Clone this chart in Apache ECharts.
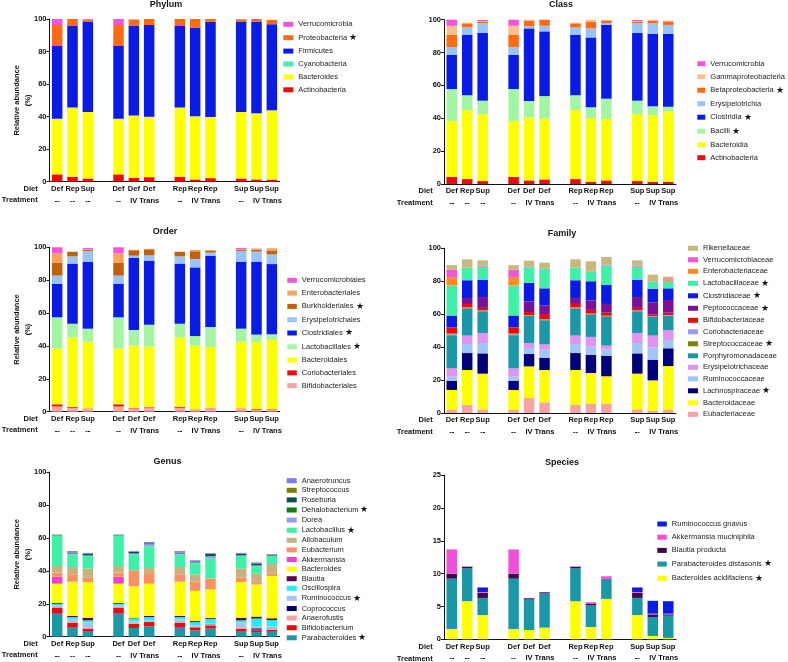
<!DOCTYPE html>
<html><head><meta charset="utf-8">
<script src="https://cdn.jsdelivr.net/npm/echarts@6/dist/echarts.min.js"></script>
<style>html,body{margin:0;padding:0;background:#fff}#c{width:788px;height:662px}</style>
</head><body><div id="c"></div>
<script>
const G = '-';
const diet = ['Def','Rep','Sup','','Def','Def','Def','','Rep','Rep','Rep','','Sup','Sup','Sup'];
const treatment = ['--','--','--','','--','IV','Trans','','--','IV','Trans','','--','IV','Trans'];
const yTicks100 = [0, 100, 20];
const yTicks25 = [0, 25, 5];

// ---- Phylum (bottom of stack first)
const phylumNames = ['Actinobacteria','Bacteroides','Cyanobacteria','Firmicutes','Proteobacteria','Verrucomicrobia'];
const phylumStarred = ['Proteobacteria'];
const phylumValues = [
  [4.5,3.1,2.0,G,4.5,2.4,2.8,G,3.1,1.4,2.2,G,2.0,1.4,1.3],
  [34.0,42.4,40.8,G,34.0,38.2,37.0,G,42.4,38.8,37.4,G,40.8,40.6,42.5],
  [0.2,0.1,0.1,G,0.2,0.1,0.1,G,0.1,0.1,0.1,G,0.1,0.1,0.1],
  [44.7,50.1,55.5,G,44.7,55.3,56.4,G,50.1,54.4,58.6,G,55.5,56.1,52.9],
  [12.9,4.3,1.2,G,12.9,3.6,3.7,G,4.3,5.3,1.8,G,1.2,1.8,2.6],
  [3.7,0,0.5,G,3.7,0.2,0,G,0,0,0,G,0.5,0.1,0.1]
];
const phylumColors = ['#ee0a0a','#ffff00','#3ff0a8','#0a1be6','#ff6a13','#f255d8'];

// ---- Class
const classNames = ['Actinobacteria','Bacteroidia','Bacilli','Clostridia','Erysipelotrichia','Betaproteobacteria','Gammaproteobacteria','Verrucomicrobia'];
const classStarred = ['Bacilli','Clostridia','Betaproteobacteria'];
const classValues = [
  [4.3,3.0,1.8,G,4.3,2.2,2.8,G,3.0,1.4,2.2,G,1.8,1.2,1.3],
  [34.0,42.0,40.8,G,34.0,38.4,37.0,G,42.0,38.8,37.4,G,40.8,40.8,42.7],
  [19.5,9.0,8.1,G,19.5,9.9,13.7,G,9.0,6.5,12.3,G,8.1,5.3,3.0],
  [20.7,36.9,41.2,G,20.7,44.2,39.4,G,36.9,42.5,44.9,G,41.2,44.2,44.3],
  [4.7,4.4,5.9,G,4.7,1.4,3.4,G,4.4,5.5,1.2,G,5.9,6.3,5.5],
  [7.5,2.5,1.0,G,7.5,3.3,3.7,G,2.5,3.9,1.6,G,1.0,1.6,2.2],
  [5.6,0.4,0.3,G,5.6,0.3,0.2,G,0.4,1.4,0.2,G,0.3,0.3,0.3],
  [3.7,0,0.7,G,3.7,0.2,0,G,0,0,0,G,0.7,0.2,0.1]
];
const classColors = ['#ee0a0a','#ffff00','#a2f5a2','#0a1be6','#98c4f8','#ff6a13','#fcc08a','#f255d8'];

// ---- Order
const orderNames = ['Bifidobacteriales','Coriobacteriales','Bacteroidales','Lactobacillales','Clostridiales','Erysipelotrichales','Burkholderiales','Enterobacteriales','Verrucomicrobiales'];
const orderStarred = ['Lactobacillales','Clostridiales','Burkholderiales'];
const orderValues = [
  [3.2,2.4,1.8,G,3.2,2.0,2.6,G,2.4,1.2,2.2,G,1.8,1.2,1.2],
  [1.3,0.6,0.2,G,1.3,0.4,0.4,G,0.6,0.2,0.2,G,0.2,0.4,0.3],
  [34.0,42.2,40.6,G,34.0,37.8,36.6,G,42.2,38.8,37.0,G,40.6,40.8,42.1],
  [18.9,8.3,7.9,G,18.9,9.5,13.3,G,8.3,5.8,12.1,G,7.9,4.5,3.5],
  [20.5,36.6,40.8,G,20.5,43.8,39.0,G,36.6,41.8,43.4,G,40.8,44.4,42.7],
  [4.9,4.4,6.5,G,4.9,1.4,3.2,G,4.4,5.1,1.9,G,6.5,6.1,5.9],
  [7.7,2.7,0.8,G,7.7,3.3,3.7,G,2.7,4.7,1.2,G,0.8,1.0,2.4],
  [5.8,0.2,0.4,G,5.8,0.3,0.3,G,0.2,0.8,0.4,G,0.4,0.6,1.3],
  [3.7,0,0.6,G,3.7,0,0,G,0,0,0,G,0.6,0.2,0]
];
const orderColors = ['#f7a3a3','#ee0a0a','#ffff00','#a2f5a2','#0a1be6','#98c4f8','#c0610f','#fca45a','#f255d8'];

// ---- Family
const familyNames = ['Eubacteriaceae','Bacteroidaceae','Lachnospiraceae','Ruminococcaceae','Erysipelotrichaceae','Porphyromonadaceae','Streptococcaceae','Coriobacteriaceae','Bifidobacteriaceae','Peptococcaceae','Clostridiaceae','Lactobacillaceae','Enterobacteriaceae','Verrucomicrobiaceae','Rikenellaceae'];
const familyStarred = ['Lachnospiraceae','Streptococcaceae','Peptococcaceae','Clostridiaceae','Lactobacillaceae'];
const familyValues = [
  [1.8,4.9,2.2,G,1.8,9.1,6.5,G,4.9,5.5,5.5,G,2.2,1.4,1.8],
  [12.2,21.2,21.7,G,12.2,19.2,19.6,G,21.2,18.8,16.8,G,21.7,18.4,26.7],
  [5.6,10.3,12.3,G,5.6,7.5,7.3,G,10.3,11.1,12.5,G,12.3,12.6,10.8],
  [2.5,5.5,6.3,G,2.5,3.7,5.1,G,5.5,4.9,3.7,G,6.3,7.3,5.0],
  [5.0,5.1,6.1,G,5.0,3.0,3.2,G,5.1,5.9,2.4,G,6.1,7.3,6.1],
  [20.1,16.4,13.1,G,20.1,16.4,14.6,G,16.4,13.5,17.6,G,13.1,11.3,8.7],
  [0.5,0.4,0.3,G,0.5,0.4,0.4,G,0.4,0.4,0.4,G,0.3,0.3,0.2],
  [0.5,0.3,0.3,G,0.5,0.2,0.2,G,0.3,0.3,0.2,G,0.3,0.2,0.2],
  [3.5,2.1,1.5,G,3.5,1.8,3.2,G,2.1,2.2,1.8,G,1.5,0.9,1.4],
  [0.3,3.6,6.6,G,0.3,6.5,5.3,G,3.6,5.8,5.3,G,6.6,7.5,7.7],
  [7.2,10.8,10.6,G,7.2,11.3,10.3,G,10.8,11.6,11.5,G,10.6,8.3,7.1],
  [18.2,7.7,7.7,G,18.2,9.4,11.7,G,7.7,6.0,11.8,G,7.7,4.1,4.0],
  [5.1,0.2,0.2,G,5.1,0.1,0,G,0.2,0.6,0.2,G,0.2,0,0.8],
  [4.4,0,0.6,G,4.4,0.3,0.2,G,0,0,0.4,G,0.6,0.2,0.7],
  [2.9,4.8,3.2,G,2.9,3.6,3.7,G,4.8,5.5,4.6,G,3.2,4.2,1.6]
];
const familyColors = ['#f7a3a3','#ffff00','#00007a','#a0c6f6','#e093f2','#1b98a8','#808010','#9a9af2','#ee0a0a','#7a1296','#0a1be6','#3ff0a8','#ff8a1f','#f255d8','#c9b77e'];

// ---- Genus
const genusNames = ['Parabacteroides','Bifidobacterium','Anaerofustis','Coprococcus','Ruminococcus','Oscillospira','Blautia','Bacteroides','Akkermansia','Eubacterium','Allobaculum','Lactobacillus','Dorea','Dehalobacterium','Roseburia','Streptococcus','Anaerotruncus'];
const genusStarred = ['Parabacteroides','Ruminococcus','Lactobacillus','Dehalobacterium'];
const genusValues = [
  [14.4,5.9,3.0,G,14.4,5.3,6.3,G,5.9,3.8,4.9,G,3.0,2.8,3.0],
  [3.2,2.6,1.9,G,3.2,2.6,2.6,G,2.6,1.9,2.0,G,1.9,1.2,1.2],
  [0.4,0.4,0.6,G,0.4,0.4,0.3,G,0.4,0.2,0.4,G,0.6,0.3,0.6],
  [0.2,0.2,0.1,G,0.2,0.1,0.1,G,0.2,0.1,0.2,G,0.1,0.8,0.2],
  [0.8,1.4,3.0,G,0.8,0.8,0.6,G,1.4,0.9,0.4,G,3.0,1.4,1.2],
  [0.8,1.4,1.3,G,0.8,1.9,2.0,G,1.4,2.0,2.8,G,1.3,4.5,3.9],
  [0.6,0.7,1.6,G,0.6,0.4,0.7,G,0.7,0.6,0.6,G,1.6,1.2,1.1],
  [11.8,20.8,21.7,G,11.8,19.1,19.6,G,20.8,18.4,17.4,G,21.7,19.5,25.7],
  [4.2,0.2,0,G,4.2,0,0,G,0.2,0,0,G,0,0,0],
  [2.5,4.3,2.6,G,2.5,9.5,6.5,G,4.3,5.5,6.5,G,2.6,1.4,1.6],
  [4.0,4.4,5.5,G,4.0,0.4,3.0,G,4.4,4.3,0.3,G,5.5,5.1,5.6],
  [18.4,7.7,7.7,G,18.4,9.5,13.2,G,7.7,6.8,11.9,G,7.7,4.7,4.9],
  [0.2,0.4,0.3,G,0.2,0.4,1.2,G,0.4,0.5,1.4,G,0.3,0.3,0.2],
  [0.1,0.1,0.1,G,0.1,0.1,0.1,G,0.1,0.1,0.1,G,0.1,0.1,0.1],
  [0.3,0.5,0.8,G,0.3,1.0,0.5,G,0.5,0.6,1.6,G,0.8,1.2,0.6],
  [0.1,0,0.1,G,0.1,0.1,0.1,G,0,0.1,0,G,0.1,0.1,0],
  [0,1.0,0.6,G,0,0.5,0.7,G,1.0,0.6,0.1,G,0.6,0.5,0.1]
];
const genusColors = ['#1b98a8','#ee0a0a','#f7a3a3','#00007a','#a0c6f6','#20f2f2','#5a0848','#ffff00','#f040d0','#fb9060','#c9b07e','#3ff0a8','#9a9af2','#0a7d0a','#0b5055','#7d7d10','#7c7cf0'];

// ---- Species
const speciesNames = ['Bacteroides acidifaciens','Parabacteroides distasonis','Blautia producta','Akkermansia muciniphila','Ruminococcus gnavus'];
const speciesStarred = ['Bacteroides acidifaciens','Parabacteroides distasonis'];
const speciesValues = [
  [1.57,5.8,3.7,G,1.57,1.41,1.77,G,5.8,1.87,6.16,G,3.7,0.5,0.2],
  [7.67,5.0,2.6,G,7.67,4.65,5.23,G,5.0,3.28,2.98,G,2.6,2.88,3.4],
  [0.76,0.26,0.77,G,0.76,0.2,0.17,G,0.26,0.3,0.06,G,0.77,0.41,0.2],
  [3.7,0.04,0.13,G,3.7,0.04,0.03,G,0.04,0.2,0.4,G,0.13,0.11,0.1],
  [0,0,0.7,G,0,0,0,G,0,0,0,G,0.7,1.96,1.9]
];
const speciesColors = ['#ffff00','#1b98a8','#3c0a48','#f050d8','#0a1be6'];

// ================= build =================
const FONT = '"Liberation Sans", Arial, Helvetica, sans-serif';
const grids = [], xAxes = [], yAxes = [], series = [], legends = [], graphics = [];

function addPanel(p) {
  const gi = grids.length;
  grids.push({left: p.left, top: p.top, width: p.width, height: p.height});
  xAxes.push({
    type: 'category', gridIndex: gi, data: diet.map((d, i) => 'c' + i),
    axisTick: {show: false},
    axisLine: {lineStyle: {color: '#111', width: 1}},
    axisLabel: {
      interval: 0, margin: 1.5,
      formatter: (v, i) => diet[i] ? '{d|' + diet[i] + '}\n{t|' + treatment[i] + '}' : '',
      rich: {
        d: {fontSize: 7.5, fontWeight: 'bold', fontFamily: FONT, color: '#111', lineHeight: 11.5},
        t: {fontSize: 7.5, fontWeight: 'bold', fontFamily: FONT, color: '#111', lineHeight: 11.5}
      }
    }
  });
  yAxes.push({
    type: 'value', gridIndex: gi, min: p.ticks[0], max: p.ticks[1], interval: p.ticks[2],
    splitLine: {show: false},
    axisLine: {show: true, lineStyle: {color: '#111', width: 1}},
    axisTick: {show: true, length: 3, lineStyle: {color: '#111', width: 1}},
    axisLabel: {fontSize: 7.5, fontWeight: 'bold', fontFamily: FONT, color: '#111', margin: 3}
  });
  p.names.forEach((n, k) => series.push({
    type: 'bar', name: n, xAxisIndex: gi, yAxisIndex: gi, stack: 'st' + gi,
    barWidth: 10.5, data: p.values[k], itemStyle: {color: p.colors[k]},
    emphasis: {disabled: true}
  }));
  legends.push({
    orient: 'vertical', left: p.legLeft, top: p.legTop, itemWidth: p.legW, itemHeight: 5,
    itemGap: p.legGap, icon: 'rect', selectedMode: false, padding: 0,
    data: p.names.slice().reverse(),
    formatter: name => p.starred.includes(name) ? name + ' {s|★}' : name,
    textStyle: {fontSize: 7.5, fontFamily: FONT, color: '#222', lineHeight: 8,
      rich: {s: {fontSize: 8.5, color: '#111', lineHeight: 8}}}
  });
  graphics.push({type: 'text', x: p.titleX, y: p.titleY,
    style: {text: p.title, font: 'bold 9px ' + FONT, fill: '#111', align: 'center', verticalAlign: 'middle'}});
  const axisY = p.top + p.height;
  const rowX = p.left < 200 ? 37.7 : 432.7;
  graphics.push({type: 'text', x: rowX, y: axisY + 7,
    style: {text: 'Diet', font: 'bold 7.5px ' + FONT, fill: '#111', align: 'right', verticalAlign: 'middle'}});
  graphics.push({type: 'text', x: rowX, y: axisY + 18.5,
    style: {text: 'Treatment', font: 'bold 7.5px ' + FONT, fill: '#111', align: 'right', verticalAlign: 'middle'}});
  if (p.yTitle) {
    const cy = p.top + p.height / 2;
    graphics.push({type: 'text', x: 17.3, y: cy, rotation: Math.PI / 2,
      style: {text: 'Relative abundance', font: 'bold 7.5px ' + FONT, fill: '#111', align: 'center', verticalAlign: 'middle'}});
    graphics.push({type: 'text', x: 28.3, y: cy, rotation: Math.PI / 2,
      style: {text: '(%)', font: 'bold 7.5px ' + FONT, fill: '#111', align: 'center', verticalAlign: 'middle'}});
  }
}

addPanel({title: 'Phylum', titleX: 166, titleY: 5, names: phylumNames, values: phylumValues, colors: phylumColors, starred: phylumStarred,
  left: 49.5, top: 19, width: 230, height: 162.7, ticks: yTicks100, legLeft: 283.3, legTop: 20.3, legGap: 4.9, legW: 10, yTitle: true});
addPanel({title: 'Class', titleX: 561, titleY: 4.5, names: classNames, values: classValues, colors: classColors, starred: classStarred,
  left: 444, top: 19.7, width: 232, height: 164.3, ticks: yTicks100, legLeft: 697.3, legTop: 59.7, legGap: 5, legW: 8, yTitle: false});
addPanel({title: 'Order', titleX: 165, titleY: 232, names: orderNames, values: orderValues, colors: orderColors, starred: orderStarred,
  left: 49.5, top: 247.3, width: 230, height: 164.4, ticks: yTicks100, legLeft: 287.3, legTop: 276.3, legGap: 4.8, legW: 9.5, yTitle: true});
addPanel({title: 'Family', titleX: 562, titleY: 233.3, names: familyNames, values: familyValues, colors: familyColors, starred: familyStarred,
  left: 444, top: 248.3, width: 232, height: 164.7, ticks: yTicks100, legLeft: 688, legTop: 244.3, legGap: 3.5, legW: 10, yTitle: false});
addPanel({title: 'Genus', titleX: 167.5, titleY: 462, names: genusNames, values: genusValues, colors: genusColors, starred: genusStarred,
  left: 49.5, top: 472, width: 230, height: 164.7, ticks: yTicks100, legLeft: 286.7, legTop: 476.7, legGap: 1.6, legW: 10, yTitle: true});
addPanel({title: 'Species', titleX: 562, titleY: 462.7, names: speciesNames, values: speciesValues, colors: speciesColors, starred: speciesStarred,
  left: 444, top: 475.3, width: 232, height: 165, ticks: yTicks25, legLeft: 657.3, legTop: 520, legGap: 5.2, legW: 9.5, yTitle: false});

const chart = echarts.init(document.getElementById('c'), null, {renderer: 'canvas'});
chart.setOption({
  animation: false, backgroundColor: '#fff',
  textStyle: {fontFamily: FONT},
  grid: grids, xAxis: xAxes, yAxis: yAxes, series: series, legend: legends,
  graphic: {elements: graphics}
});
</script></body></html>
